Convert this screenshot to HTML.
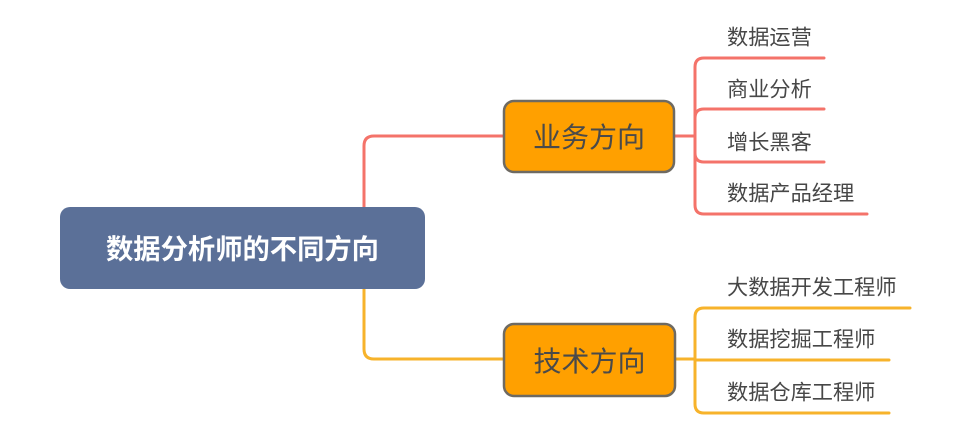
<!DOCTYPE html>
<html><head><meta charset="utf-8"><style>
html,body{margin:0;padding:0;background:#fff;}
body{width:968px;height:434px;overflow:hidden;position:relative;}
svg{position:absolute;left:0;top:0;}
text{font-family:"Liberation Sans","Noto Sans CJK SC",sans-serif;}
</style></head><body>
<svg width="968" height="434" viewBox="0 0 968 434" xmlns="http://www.w3.org/2000/svg">
  <g fill="none" stroke-width="3" stroke-linecap="round">
    <path d="M364 207 V146 Q364 136 374 136 H505" stroke="#f4736a"/>
    <path d="M364 289 V349 Q364 359 374 359 H505" stroke="#f7b32b"/>
    <path d="M674 136 H695" stroke="#f4736a"/>
    <path d="M695 136 V67 Q695 58 704 58 H824" stroke="#f4736a"/>
    <path d="M695 136 V118 Q695 109 704 109 H824" stroke="#f4736a"/>
    <path d="M695 136 V153 Q695 162 704 162 H824" stroke="#f4736a"/>
    <path d="M695 136 V205 Q695 214 704 214 H867" stroke="#f4736a"/>
    <path d="M675 359 H695" stroke="#f7b32b"/>
    <path d="M695 359 V317 Q695 308 704 308 H910" stroke="#f7b32b"/>
    <path d="M695 359 V360 H889" stroke="#f7b32b"/>
    <path d="M695 359 V404 Q695 413 704 413 H889" stroke="#f7b32b"/>
  </g>
  <rect x="60" y="207" width="365" height="82" rx="10" fill="#5b7098"/>
  <text x="242.5" y="258.5" font-size="27.3" font-weight="bold" fill="#fff" text-anchor="middle">数据分析师的不同方向</text>
  <rect x="504" y="101" width="170" height="71" rx="10" fill="#ffa000" stroke="#6e6a62" stroke-width="2.5"/>
  <text x="589" y="147" font-size="28" fill="#4a4a4a" text-anchor="middle">业务方向</text>
  <rect x="504" y="324" width="171" height="72" rx="10" fill="#ffa000" stroke="#6e6a62" stroke-width="2.5"/>
  <text x="589.5" y="371" font-size="28" fill="#4a4a4a" text-anchor="middle">技术方向</text>
  <g font-size="21.2" fill="#474747">
    <text x="727" y="44.5">数据运营</text>
    <text x="727" y="96.5">商业分析</text>
    <text x="727" y="149.5">增长黑客</text>
    <text x="727" y="200.5">数据产品经理</text>
    <text x="727" y="294.5">大数据开发工程师</text>
    <text x="727" y="346.5">数据挖掘工程师</text>
    <text x="727" y="399.5">数据仓库工程师</text>
  </g>
</svg>
</body></html>
